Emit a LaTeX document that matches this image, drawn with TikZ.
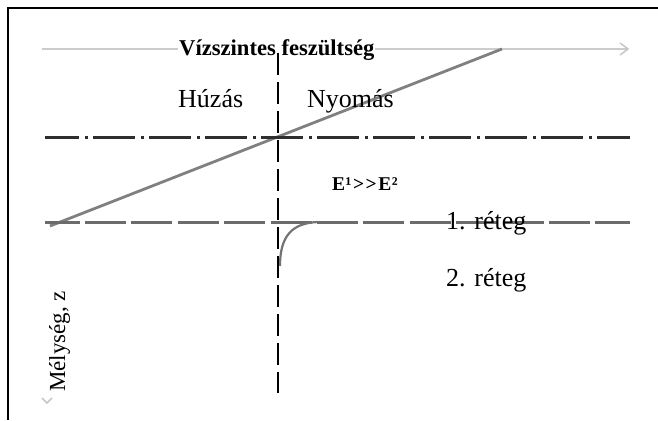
\documentclass[tikz,border=0pt]{standalone}
\usepackage{fontspec}
\setmainfont{Liberation Serif}
\begin{document}
\begin{tikzpicture}[x=1pt,y=-1pt,
  lbl/.style={inner sep=0pt,anchor=base west,font=\fontsize{26}{30}\selectfont},
  axisline/.style={draw=black!20,line width=1.5pt},
  chev/.style={draw=black!22,line width=1.5pt},
  slopeline/.style={draw=black!50,line width=2.8pt},
  dashdotline/.style={draw=black!82,line width=3pt,dash pattern=on 42pt off 6pt on 3pt off 5pt,dash phase=8pt},
  dashline/.style={draw=black!58,line width=3pt,dash pattern=on 41pt off 5.4pt,dash phase=6.4pt},
  vline/.style={draw=black,line width=2.8pt,dash pattern=on 22pt off 7pt},
  curveline/.style={draw=black!55,line width=2.2pt},
  frameline/.style={draw=black,line width=1.6pt}]
\useasboundingbox (0,0) rectangle (658,420);
% frame
\coordinate (fbl) at (8,420);
\coordinate (ftl) at (8,8);
\coordinate (ftr) at (658,8);
\draw[frameline] (fbl) -- (ftl) -- (ftr);
% horizontal stress axis
\coordinate (axL) at (42,49);
\coordinate (axR) at (628,49);
\coordinate (axU) at (620,43);
\coordinate (axD) at (620,55);
\draw[axisline] (axL) -- (axR);
\draw[chev] (axU) -- (axR) -- (axD);
% depth axis tip
\coordinate (dL) at (42,398);
\coordinate (dT) at (47,403);
\coordinate (dR) at (52,398);
\draw[chev] (dL) -- (dT) -- (dR);
% sloped stress line
\coordinate (sA) at (50,226);
\coordinate (sB) at (502,49);
\draw[slopeline] (sA) -- (sB);
% title
\node[inner xsep=1pt,inner ysep=2pt,anchor=base west,fill=white,font=\fontsize{22.6}{26}\selectfont\bfseries] (title) at (178,56) {Vízszintes feszültség};
% dash-dot line
\coordinate (ddL) at (45,137);
\coordinate (ddR) at (630,137);
\draw[dashdotline] (ddL) -- (ddR);
% dashed layer boundary
\coordinate (dsL) at (45,222);
\coordinate (dsR) at (630,222);
\draw[dashline] (dsL) -- (dsR);
% curve
\coordinate (cA) at (280,266);
\coordinate (cB) at (318,222);
\draw[curveline] (cA) .. controls (280,236) and (292,223) .. (cB);
% vertical axis
\coordinate (vT) at (278,53);
\coordinate (vB) at (278,393);
\draw[vline] (vT) -- (vB);
% labels
\node[lbl] (huzas) at (178,107) {Húzás};
\node[lbl] (nyomas) at (307,107) {Nyomás};
\node[lbl,font=\fontsize{19.5}{22}\selectfont\bfseries] (emod) at (332,190) {E\kern0.5pt¹\kern1.5pt>\kern1.5pt>\kern1.5pt E\kern0.5pt²};
\node[lbl] (r1) at (446,229) {1. réteg};
\node[lbl] (r2) at (446,286) {2. réteg};
\node[lbl,rotate=90,font=\fontsize{23}{26}\selectfont] (depth) at (65,392) {Mélység, z};
\end{tikzpicture}
\end{document}
